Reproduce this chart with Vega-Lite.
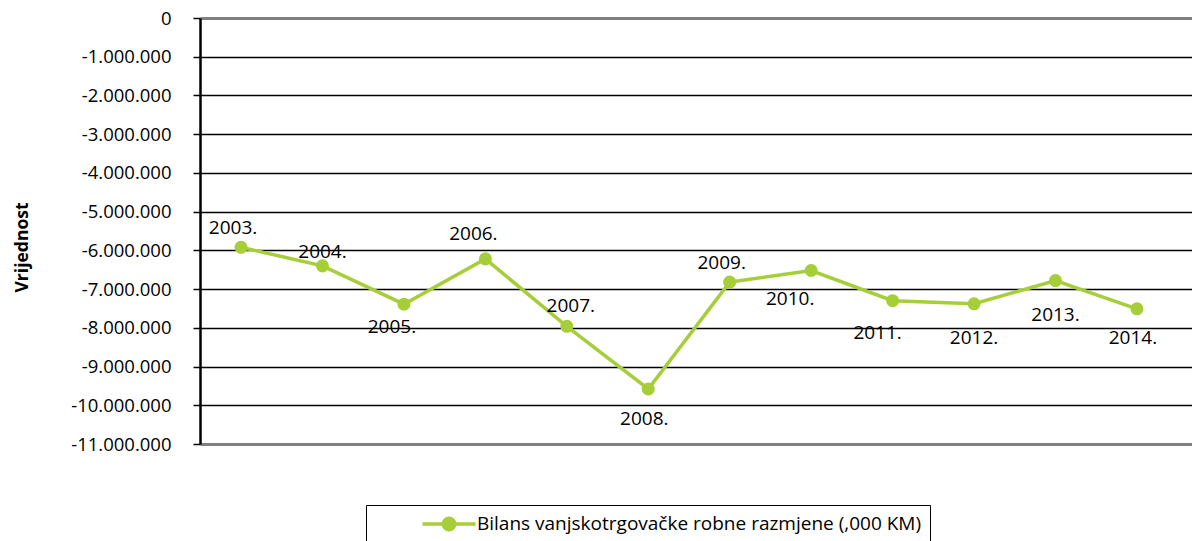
{
  "$schema": "https://vega.github.io/schema/vega-lite/v6.json",
  "width": 992,
  "height": 426,
  "autosize": {"type": "none"},
  "padding": {"left": 200, "top": 18, "right": 0, "bottom": 97},
  "background": "white",
  "config": {
    "view": {"stroke": null},
    "font": "Open Sans",
    "locale": {"number": {"decimal": ",", "thousands": ".", "grouping": [3], "currency": ["", " KM"], "minus": "-"}}
  },
  "data": {"values": [
    {"year": "2003.", "value": -5920000, "series": "Bilans vanjskotrgovačke robne razmjene (,000 KM)"},
    {"year": "2004.", "value": -6400000, "series": "Bilans vanjskotrgovačke robne razmjene (,000 KM)"},
    {"year": "2005.", "value": -7390000, "series": "Bilans vanjskotrgovačke robne razmjene (,000 KM)"},
    {"year": "2006.", "value": -6220000, "series": "Bilans vanjskotrgovačke robne razmjene (,000 KM)"},
    {"year": "2007.", "value": -7960000, "series": "Bilans vanjskotrgovačke robne razmjene (,000 KM)"},
    {"year": "2008.", "value": -9580000, "series": "Bilans vanjskotrgovačke robne razmjene (,000 KM)"},
    {"year": "2009.", "value": -6820000, "series": "Bilans vanjskotrgovačke robne razmjene (,000 KM)"},
    {"year": "2010.", "value": -6520000, "series": "Bilans vanjskotrgovačke robne razmjene (,000 KM)"},
    {"year": "2011.", "value": -7300000, "series": "Bilans vanjskotrgovačke robne razmjene (,000 KM)"},
    {"year": "2012.", "value": -7380000, "series": "Bilans vanjskotrgovačke robne razmjene (,000 KM)"},
    {"year": "2013.", "value": -6780000, "series": "Bilans vanjskotrgovačke robne razmjene (,000 KM)"},
    {"year": "2014.", "value": -7510000, "series": "Bilans vanjskotrgovačke robne razmjene (,000 KM)"}
  ]},
  "encoding": {
    "x": {"field": "year", "type": "ordinal", "sort": null, "axis": null,
          "scale": {"type": "point", "padding": 0.59, "align": 0.427}},
    "y": {"field": "value", "type": "quantitative",
          "scale": {"domain": [-11000000, 0], "nice": false, "zero": false},
          "axis": {
            "values": [0, -1000000, -2000000, -3000000, -4000000, -5000000, -6000000, -7000000, -8000000, -9000000, -10000000, -11000000],
            "format": ",d",
            "title": "Vrijednost",
            "titleFont": "Open Sans",
            "titleFontSize": 17.5,
            "titleFontWeight": "bold",
            "titleColor": "black",
            "titleX": -178,
            "titleY": 229,
            "titleAngle": -90,
            "titleAlign": "center",
            "titleBaseline": "middle",
            "labelFont": "Open Sans",
            "labelFontSize": 18.5,
            "labelColor": "black",
            "labelPadding": 22,
            "tickSize": 7,
            "tickColor": "black",
            "tickWidth": 1.5,
            "domainColor": "black",
            "domainWidth": 2.5,
            "grid": true,
            "gridColor": {"condition": {"test": "datum.value === 0 || datum.value === -11000000", "value": "#808080"}, "value": "black"},
            "gridWidth": {"condition": {"test": "datum.value === 0 || datum.value === -11000000", "value": 3}, "value": 1.5}
          }}
  },
  "layer": [
    {
      "mark": {"type": "line", "strokeWidth": 3.5},
      "encoding": {
        "color": {"field": "series", "type": "nominal",
          "scale": {"range": ["#a6ce39"]},
          "legend": {
            "title": null,
            "orient": "none",
            "legendX": 166,
            "legendY": 487,
            "strokeColor": "black",
            "padding": 8,
            "symbolOffset": 64,
            "symbolType": "M-3,0L3,0M-0.65,0A0.65,0.65,0,1,1,0.65,0A0.65,0.65,0,1,1,-0.65,0Z",
            "symbolSize": 312,
            "symbolStrokeWidth": 3.5,
            "symbolStrokeColor": "#a6ce39",
            "symbolFillColor": "#a6ce39",
            "labelOffset": 17,
            "labelFont": "Open Sans",
            "labelFontSize": 19,
            "labelColor": "black",
            "labelLimit": 1000,
            "labelExpr": "datum.label + '\u2003\u2003\u2003\u2009'"
          }}
      }
    },
    {
      "mark": {"type": "point", "filled": true, "size": 170, "opacity": 1},
      "encoding": {"color": {"field": "series", "type": "nominal", "legend": null}}
    },
    {
      "transform": [{"filter": {"field": "year", "oneOf": ["2003.", "2009."]}}],
      "mark": {"type": "text", "dx": -8, "dy": -19, "fontSize": 19, "font": "Open Sans", "color": "black"},
      "encoding": {"text": {"field": "year"}}
    },
    {
      "transform": [{"filter": {"field": "year", "oneOf": ["2004."]}}],
      "mark": {"type": "text", "dx": 0, "dy": -14, "fontSize": 19, "font": "Open Sans", "color": "black"},
      "encoding": {"text": {"field": "year"}}
    },
    {
      "transform": [{"filter": {"field": "year", "oneOf": ["2006."]}}],
      "mark": {"type": "text", "dx": -12, "dy": -25, "fontSize": 19, "font": "Open Sans", "color": "black"},
      "encoding": {"text": {"field": "year"}}
    },
    {
      "transform": [{"filter": {"field": "year", "oneOf": ["2007."]}}],
      "mark": {"type": "text", "dx": 4, "dy": -20, "fontSize": 19, "font": "Open Sans", "color": "black"},
      "encoding": {"text": {"field": "year"}}
    },
    {
      "transform": [{"filter": {"field": "year", "oneOf": ["2005."]}}],
      "mark": {"type": "text", "dx": -12, "dy": 23, "fontSize": 19, "font": "Open Sans", "color": "black"},
      "encoding": {"text": {"field": "year"}}
    },
    {
      "transform": [{"filter": {"field": "year", "oneOf": ["2008.", "2014."]}}],
      "mark": {"type": "text", "dx": -4, "dy": 29.5, "fontSize": 19, "font": "Open Sans", "color": "black"},
      "encoding": {"text": {"field": "year"}}
    },
    {
      "transform": [{"filter": {"field": "year", "oneOf": ["2010."]}}],
      "mark": {"type": "text", "dx": -21, "dy": 28, "fontSize": 19, "font": "Open Sans", "color": "black"},
      "encoding": {"text": {"field": "year"}}
    },
    {
      "transform": [{"filter": {"field": "year", "oneOf": ["2011."]}}],
      "mark": {"type": "text", "dx": -15, "dy": 32, "fontSize": 19, "font": "Open Sans", "color": "black"},
      "encoding": {"text": {"field": "year"}}
    },
    {
      "transform": [{"filter": {"field": "year", "oneOf": ["2012.", "2013."]}}],
      "mark": {"type": "text", "dx": 0, "dy": 34, "fontSize": 19, "font": "Open Sans", "color": "black"},
      "encoding": {"text": {"field": "year"}}
    }
  ]
}
